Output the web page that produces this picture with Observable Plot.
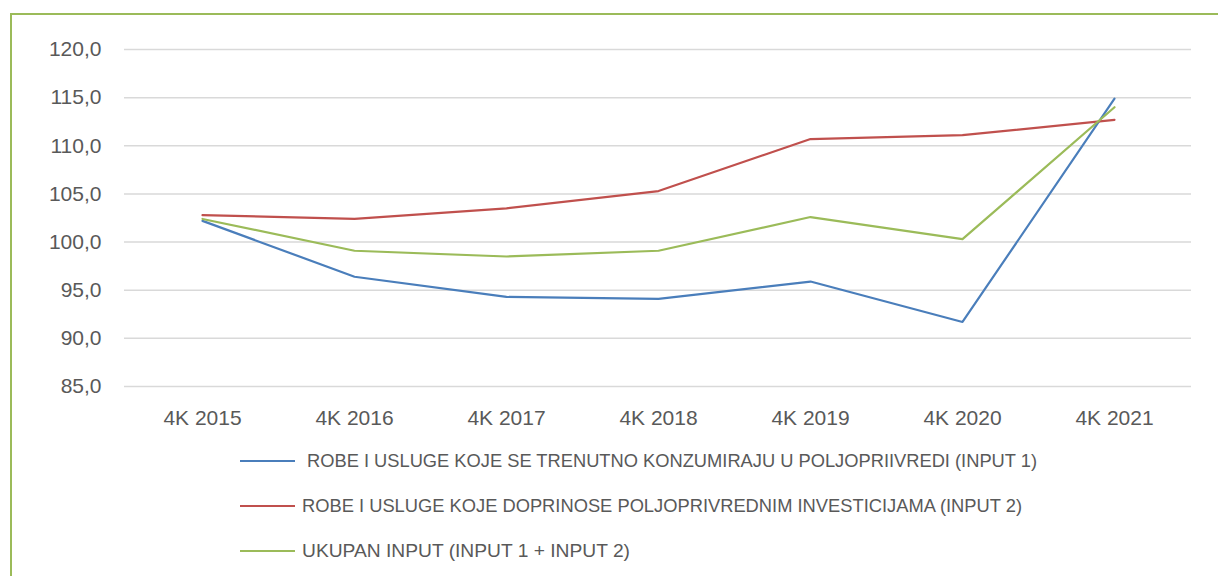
<!DOCTYPE html>
<html>
<head>
<meta charset="utf-8">
<script src="https://cdn.jsdelivr.net/npm/d3@7"></script>
<script src="https://cdn.jsdelivr.net/npm/@observablehq/plot@0.6"></script>
<style>
  html, body { margin: 0; padding: 0; background: #fff; width: 1218px; height: 576px; overflow: hidden; }
  #frame { position: absolute; left: 10px; top: 13px; width: 1240px; height: 600px; border: 2px solid #9bbb59; box-sizing: border-box; }
  #chart { position: absolute; left: 0; top: 0; }
  .leg { position: absolute; left: 240px; height: 20px; display: flex; align-items: center; font-family: "Liberation Sans", sans-serif; font-size: 19px; color: #595959; white-space: nowrap; }
  .leg .sw { width: 55px; height: 0; border-top: 2px solid; margin-right: 7px; }
  .leg span.t { display: inline-block; transform-origin: left center; }
</style>
</head>
<body>
<div id="frame"></div>
<div id="chart"></div>
<div id="legend"></div>
<script>
const categories = ["4K 2015", "4K 2016", "4K 2017", "4K 2018", "4K 2019", "4K 2020", "4K 2021"];
const input1 = [102.2, 96.4, 94.3, 94.1, 95.9, 91.7, 114.9];
const input2 = [102.8, 102.4, 103.5, 105.3, 110.7, 111.1, 112.7];
const ukupan = [102.4, 99.1, 98.5, 99.1, 102.6, 100.3, 114.0];
const seriesNames = [
  "ROBE I USLUGE KOJE SE TRENUTNO KONZUMIRAJU U POLJOPRIIVREDI (INPUT 1)",
  "ROBE I USLUGE KOJE DOPRINOSE POLJOPRIVREDNIM INVESTICIJAMA (INPUT 2)",
  "UKUPAN INPUT (INPUT 1 + INPUT 2)"
];
const seriesColors = ["#4a7ebb", "#c0504d", "#9bbb59"];
const yTicks = [85, 90, 95, 100, 105, 110, 115, 120];

const seriesValues = [input1, input2, ukupan];
const data = seriesValues.flatMap((vals, i) => vals.map((v, j) => ({cat: categories[j], value: v, series: seriesNames[i]})));

const chart = Plot.plot({
  width: 1218,
  height: 440,
  marginLeft: 124,
  marginRight: 27,
  marginTop: 49,
  marginBottom: 54,
  style: {fontFamily: "Liberation Sans, sans-serif", fontSize: "21px", color: "#595959", background: "transparent", overflow: "visible"},
  x: {type: "band", domain: categories, padding: 0, label: null, tickSize: 0, tickPadding: 24},
  y: {domain: [85, 120], ticks: yTicks, label: null, tickSize: 0, tickPadding: 23, tickFormat: d => d.toFixed(1).replace(".", ",")},
  color: {domain: seriesNames, range: seriesColors},
  marks: [
    Plot.ruleY(yTicks, {stroke: "#d9d9d9", strokeWidth: 1.5}),
    Plot.line(data, {x: "cat", y: "value", z: "series", stroke: "series", strokeWidth: 2.2, curve: "linear"})
  ]
});
document.getElementById("chart").appendChild(chart);

const legendTops = [451, 496, 541];
const legendWidths = [730, 720, 328];
const leg = document.getElementById("legend");
seriesNames.forEach((name, i) => {
  const row = document.createElement("div");
  row.className = "leg";
  row.style.top = legendTops[i] + "px";
  const sw = document.createElement("div");
  sw.className = "sw";
  sw.style.borderColor = seriesColors[i];
  if (i === 0) sw.style.marginRight = "12px";
  const t = document.createElement("span");
  t.className = "t";
  t.textContent = name;
  row.appendChild(sw);
  row.appendChild(t);
  leg.appendChild(row);
  const w = t.getBoundingClientRect().width;
  t.style.transform = `scaleX(${legendWidths[i] / w})`;
});
</script>
</body>
</html>
